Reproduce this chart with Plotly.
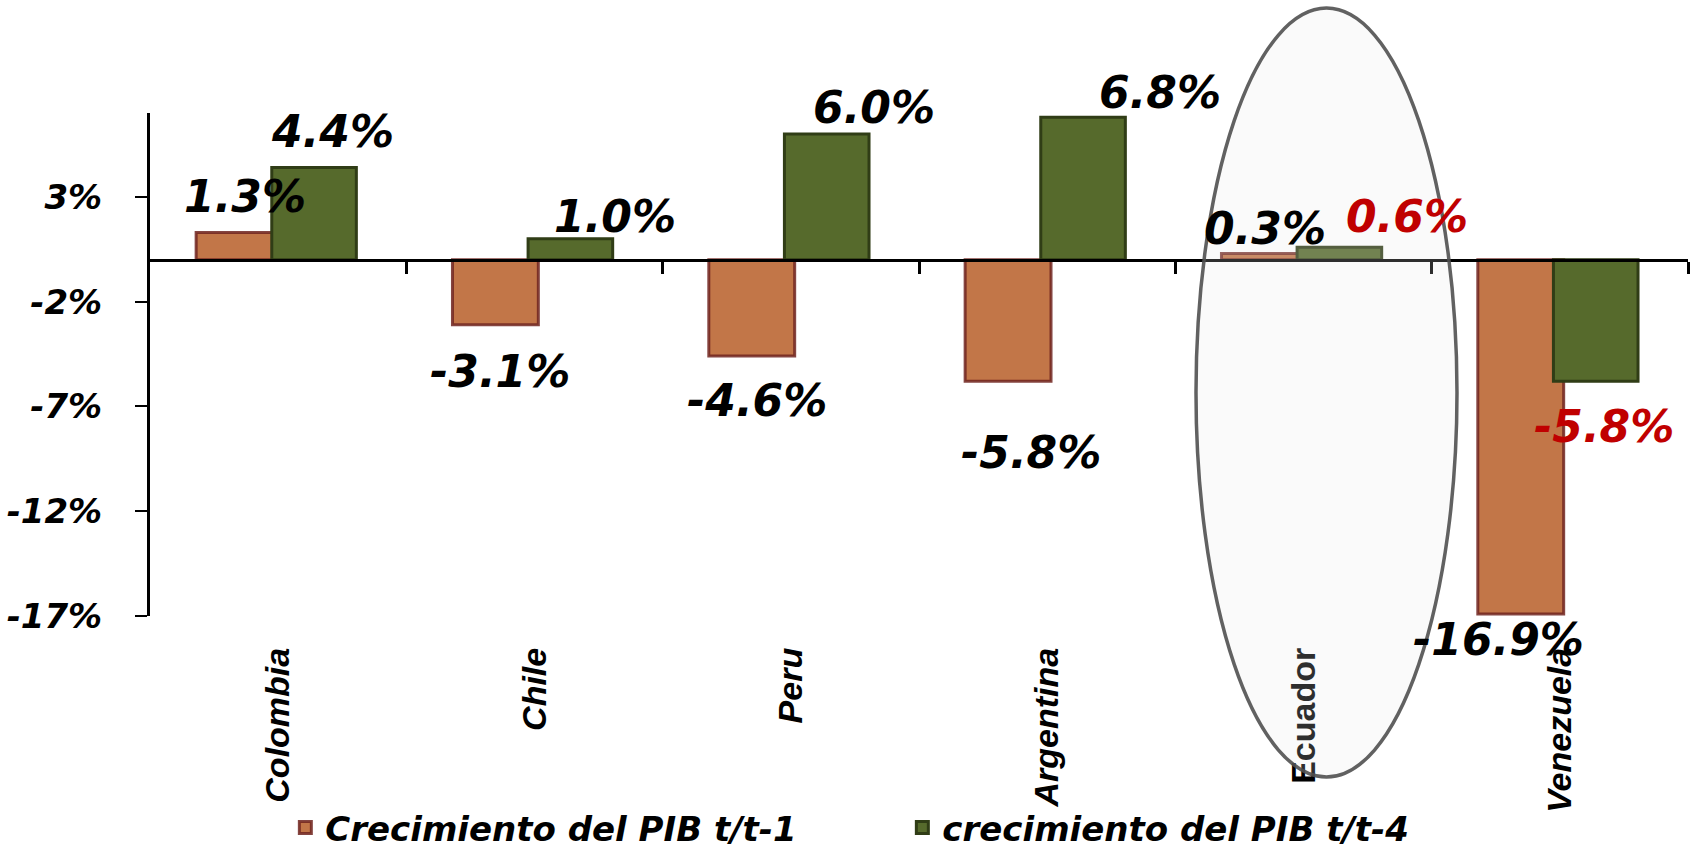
import plotly.graph_objects as go

# --- data -------------------------------------------------------------
categories = ["Colombia", "Chile", "Peru", "Argentina", "Ecuador", "Venezuela"]
pib_t1 = [1.3, -3.1, -4.6, -5.8, 0.3, -16.9]   # Crecimiento del PIB t/t-1 (%)
pib_t4 = [4.4, 1.0, 6.0, 6.8, 0.6, -5.8]       # crecimiento del PIB t/t-4 (%)
series_names = ["Crecimiento del PIB t/t-1", "crecimiento del PIB t/t-4"]
y_tick_values = [3, -2, -7, -12, -17]
y_tick_labels = ["3%", "-2%", "-7%", "-12%", "-17%"]
upright_categories = ["Ecuador"]
red_labels_t4 = ["Ecuador", "Venezuela"]

# --- label placement (pixel offsets from each bar end) ----------------
t1_xshift = [-33, -35, -34, -16, -39, -61]
t1_yshift = [36, -47, -44, -71, 25, -26]
t4_xshift = [54, 80, 83, 113, 103, 44]
t4_yshift = [36, 22, 26, 25, 31, -45]

# --- styling ----------------------------------------------------------
Y_MIN, Y_MAX = -17, 7
ORANGE = "#c27648"
ORANGE_EDGE = "rgba(112,36,32,0.85)"
GREEN = "#566a2c"
GREEN_EDGE = "#303d16"
LABEL_FONT = dict(family="DejaVu Sans", size=44, weight="bold", style="italic")
TICK_FONT = dict(family="DejaVu Sans", size=34, weight="bold", style="italic", color="black")
CAT_FONT = dict(family="Liberation Sans", size=34, weight="bold", color="black")

fig = go.Figure()

fig.add_trace(go.Bar(
    x=categories, y=pib_t1, name=series_names[0],
    width=0.335, offset=-0.32,
    marker=dict(color=ORANGE, line=dict(color=ORANGE_EDGE, width=3)),
))
fig.add_trace(go.Bar(
    x=categories, y=pib_t4, name=series_names[1],
    width=0.33, offset=-0.025,
    marker=dict(color=GREEN, line=dict(color=GREEN_EDGE, width=3)),
))
# empty trace that carries the zero-line axis
fig.add_trace(go.Scatter(x=[], y=[], xaxis="x2", showlegend=False, hoverinfo="skip"))

# value labels
annotations = []
for values, xs, ys, red in ((pib_t1, t1_xshift, t1_yshift, []),
                            (pib_t4, t4_xshift, t4_yshift, red_labels_t4)):
    for cat, v, dx, dy in zip(categories, values, xs, ys):
        annotations.append(dict(
            x=cat, y=v, xref="x", yref="y", text=f"{v:.1f}%",
            showarrow=False, xshift=dx, yshift=dy, yanchor="middle",
            font=dict(**LABEL_FONT, color="#c00000" if cat in red else "black"),
        ))

cat_text = [c if c in upright_categories else f"<i>{c}</i>" for c in categories]
boundaries = [i + 0.5 for i in range(len(categories))]
zero_pos = (0 - Y_MIN) / (Y_MAX - Y_MIN)

fig.update_layout(
    width=1690, height=851, autosize=False,
    margin=dict(l=150, r=2, t=113, b=235, autoexpand=False),
    paper_bgcolor="white", plot_bgcolor="white",
    barmode="overlay",
    xaxis=dict(
        type="category", range=[-0.5, len(categories) - 0.5],
        tickmode="array", tickvals=categories, ticktext=cat_text,
        tickangle=-90, ticks="", showline=False, showgrid=False, zeroline=False,
        tickfont=CAT_FONT, ticklabelstandoff=24, automargin=False,
    ),
    xaxis2=dict(
        overlaying="x", anchor="free", position=zero_pos, side="bottom",
        range=[-0.5, len(categories) - 0.5], tickmode="array", tickvals=boundaries,
        ticks="outside", ticklen=12, tickwidth=3, tickcolor="black",
        showline=True, linecolor="black", linewidth=3,
        showticklabels=False, showgrid=False, zeroline=False,
    ),
    yaxis=dict(
        range=[Y_MIN, Y_MAX], tickmode="array",
        tickvals=y_tick_values, ticktext=y_tick_labels,
        ticks="outside", ticklen=12, tickwidth=2, tickcolor="black",
        showline=True, linecolor="black", linewidth=3,
        showgrid=False, zeroline=False, tickfont=TICK_FONT, ticklabelstandoff=26,
        automargin=False,
    ),
    legend=dict(
        orientation="h", x=0.088, xanchor="left", y=-0.4215, yanchor="middle",
        font=dict(family="DejaVu Sans", size=34, weight="bold", style="italic", color="black"),
        entrywidth=572, entrywidthmode="pixels", bgcolor="rgba(0,0,0,0)",
    ),
    annotations=annotations,
    shapes=[dict(
        type="circle", xref="paper", yref="paper",
        x0=0.6801, x1=0.8498, y0=-0.3201, y1=1.2087,
        layer="above", fillcolor="rgba(228,228,228,0.2)",
        line=dict(color="rgba(80,80,80,0.9)", width=3.5),
    )],
)

fig.write_html("out.html")
